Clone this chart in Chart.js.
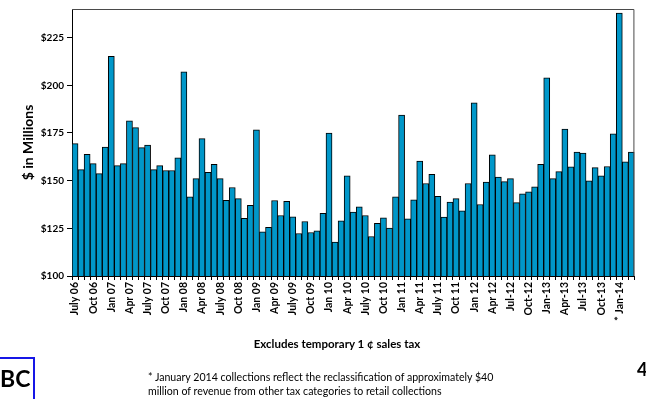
<!DOCTYPE html>
<html>
<head>
<meta charset="utf-8">
<script src="https://cdn.jsdelivr.net/npm/chart.js@4/dist/chart.umd.min.js"></script>
<style>
  html, body { margin: 0; padding: 0; background: #fff; }
  #wrap { position: relative; width: 646px; height: 399px; overflow: hidden; font-family: Lato, "Liberation Sans", sans-serif; }
  #chart { position: absolute; left: 0; top: 0; }
  .note { position: absolute; color: #000; white-space: nowrap; }
  #excl { left: 0; width: 674px; top: 337px; text-align: center; font-weight: bold; font-size: 11.5px; }
  #foot { left: 148px; top: 370px; font-size: 10.6px; line-height: 14px; }
  #logo { left: -4px; top: 357px; width: 39px; height: 48px; border: 2px solid #1616e6; box-sizing: border-box; }
  #logo span { position: absolute; left: 2px; top: 6px; font-weight: bold; font-size: 23px; line-height: 26px; }
  #page { left: 637px; top: 358px; font-weight: bold; font-size: 18px; line-height: 22px; }
</style>
</head>
<body>
<div id="wrap">
  <canvas id="chart" width="646" height="399"></canvas>
  <div class="note" id="excl">Excludes temporary 1 ¢ sales tax</div>
  <div class="note" id="foot">* January 2014 collections reflect the reclassification of approximately $40<br>million of revenue from other tax categories to retail collections</div>
  <div class="note" id="logo"><span>BC</span></div>
  <div class="note" id="page">4</div>
</div>
<script>
// Monthly retail sales tax collections, July 2006 - March 2014 ($ millions)
const months = [
  'Jul 06','Aug 06','Sep 06','Oct 06','Nov 06','Dec 06','Jan 07','Feb 07','Mar 07','Apr 07','May 07','Jun 07',
  'Jul 07','Aug 07','Sep 07','Oct 07','Nov 07','Dec 07','Jan 08','Feb 08','Mar 08','Apr 08','May 08','Jun 08',
  'Jul 08','Aug 08','Sep 08','Oct 08','Nov 08','Dec 08','Jan 09','Feb 09','Mar 09','Apr 09','May 09','Jun 09',
  'Jul 09','Aug 09','Sep 09','Oct 09','Nov 09','Dec 09','Jan 10','Feb 10','Mar 10','Apr 10','May 10','Jun 10',
  'Jul 10','Aug 10','Sep 10','Oct 10','Nov 10','Dec 10','Jan 11','Feb 11','Mar 11','Apr 11','May 11','Jun 11',
  'Jul 11','Aug 11','Sep 11','Oct 11','Nov 11','Dec 11','Jan 12','Feb 12','Mar 12','Apr 12','May 12','Jun 12',
  'Jul 12','Aug 12','Sep 12','Oct 12','Nov 12','Dec 12','Jan 13','Feb 13','Mar 13','Apr 13','May 13','Jun 13',
  'Jul 13','Aug 13','Sep 13','Oct 13','Nov 13','Dec 13','Jan 14','Feb 14','Mar 14'
];

const collections = [
  169.4,155.8,163.8,158.9,153.7,167.6,215.2,157.9,158.9,181.4,177.8,167.3,
  168.7,155.8,157.9,155.3,155.3,161.9,207.0,141.5,151.1,172.0,154.4,158.6,
  151.1,139.7,146.4,140.6,130.2,137.0,176.7,123.2,125.5,139.6,131.7,139.1,
  131.0,122.3,128.6,122.8,123.7,132.9,175.0,117.8,128.9,152.5,133.5,136.3,
  131.7,120.7,127.6,130.5,125.1,141.5,184.4,130.0,139.9,160.3,148.5,153.3,
  141.8,130.9,138.7,140.6,134.2,148.5,190.8,137.5,149.2,163.5,151.9,149.5,
  151.1,138.5,143.1,144.1,146.7,158.6,203.9,151.1,154.7,177.0,157.2,165.0,
  164.5,149.9,156.8,152.5,157.4,174.6,237.9,159.8,165.0
];

// Quarterly axis labels (one every third month)
const quarterLabels = [
  'July 06','Oct 06','Jan 07','Apr 07','July 07','Oct 07','Jan 08','Apr 08',
  'July 08','Oct 08','Jan 09','Apr 09','July 09','Oct 09','Jan 10','Apr 10',
  'July 10','Oct 10','Jan 11','Apr 11','July 11','Oct 11','Jan 12','Apr 12',
  'Jul-12','Oct-12','Jan-13','Apr-13','Jul-13','Oct-13','* Jan-14'
];

const yTicks = [100, 125, 150, 175, 200, 225];

const FONT = 'Lato, "Liberation Sans", sans-serif';

// Top/right frame of the plot area
const frame = {
  id: 'frame',
  afterDraw(chart) {
    const { ctx, chartArea: a } = chart;
    ctx.save();
    ctx.strokeStyle = '#4a4a4a';
    ctx.lineWidth = 1;
    ctx.beginPath();
    ctx.moveTo(a.left, a.top + 0.5);
    ctx.lineTo(a.right - 0.5, a.top + 0.5);
    ctx.lineTo(a.right - 0.5, a.bottom);
    ctx.stroke();
    ctx.restore();
  }
};

new Chart(document.getElementById('chart'), {
  type: 'bar',
  data: {
    labels: months,
    datasets: [{
      data: collections,
      backgroundColor: '#0097c9',
      borderColor: '#000',
      borderWidth: 1,
      barPercentage: 1,
      categoryPercentage: 1
    }]
  },
  options: {
    responsive: false,
    animation: false,
    devicePixelRatio: 1,
    layout: { padding: { top: 8, right: 1, left: 0, bottom: 0 } },
    plugins: { legend: { display: false }, tooltip: { enabled: false } },
    scales: {
      x: {
        offset: true,
        grid: { offset: true, drawOnChartArea: false, drawTicks: true, tickLength: 4, color: '#000' },
        border: { color: '#000', width: 1 },
        ticks: {
          autoSkip: false, minRotation: 90, maxRotation: 90, padding: 2, color: '#000',
          font: { family: FONT, size: 10.5, weight: 'bold' },
          callback: (v, i) => (i % 3 === 0 ? quarterLabels[i / 3] : '')
        },
        afterFit: s => { s.height = 123; }
      },
      y: {
        min: 100, max: 240,
        grid: { drawOnChartArea: false, drawTicks: true, tickLength: 5, color: '#000' },
        border: { color: '#000', width: 1 },
        afterBuildTicks: s => { s.ticks = yTicks.map(v => ({ value: v })); },
        ticks: {
          stepSize: 25, includeBounds: false, padding: 3, color: '#000',
          font: { family: FONT, size: 10, weight: 'bold' },
          callback: v => '$' + v
        },
        title: {
          display: true, text: '$ in Millions', color: '#000',
          font: { family: FONT, size: 14, weight: 'bold' },
          padding: { top: 20, bottom: 0 }
        },
        afterFit: s => { s.width = 72; }
      }
    }
  },
  plugins: [frame]
});
</script>
</body>
</html>
